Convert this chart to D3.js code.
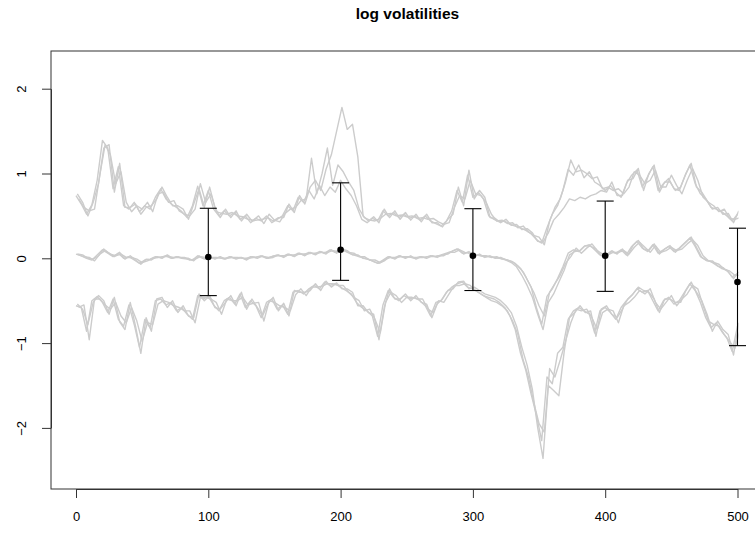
<!DOCTYPE html>
<html>
<head>
<meta charset="utf-8">
<script src="https://cdn.jsdelivr.net/npm/d3@7"></script>
<style>
  body { margin: 0; background: #fff; }
  svg { display: block; font-family: "Liberation Sans", Arial, Helvetica, sans-serif; }
</style>
</head>
<body>
<div id="chart"></div>
<script>
const width = 755;
const height = 535;

// sampling times of the paths: every 4th step, each run read on its own offset
const stepsA = d3.range(0, 501, 4);
const stepsB = d3.range(2, 503, 4);
const stepsC = d3.range(1, 502, 4);

// upper quantile paths
const upperA = [
  0.74, 0.64, 0.52, 0.63, 0.92, 1.39, 1.30, 0.82, 1.08, 0.62,
  0.58, 0.66, 0.55, 0.62, 0.58, 0.72, 0.82, 0.70, 0.64, 0.60,
  0.55, 0.48, 0.62, 0.85, 0.62, 0.80, 0.58, 0.50, 0.56, 0.50,
  0.54, 0.46, 0.50, 0.42, 0.47, 0.44, 0.50, 0.42, 0.46, 0.50,
  0.62, 0.56, 0.72, 0.66, 0.80, 0.70, 0.86, 0.74, 0.84, 0.78,
  0.92, 0.82, 0.74, 0.62, 0.46, 0.42, 0.47, 0.44, 0.56, 0.50,
  0.54, 0.48, 0.52, 0.47, 0.50, 0.45, 0.50, 0.44, 0.41, 0.38,
  0.44, 0.56, 0.80, 0.66, 0.98, 0.72, 0.78, 0.70, 0.50, 0.46,
  0.43, 0.44, 0.40, 0.38, 0.36, 0.33, 0.29, 0.22, 0.18, 0.36,
  0.52, 0.62, 0.80, 1.05, 0.98, 1.10, 0.95, 1.02, 0.90, 0.86,
  0.80, 0.86, 0.78, 0.72, 0.88, 0.98, 1.04, 0.84, 0.96, 1.08,
  0.80, 0.88, 0.94, 0.82, 0.80, 0.96, 1.10, 0.88, 0.76, 0.70,
  0.60, 0.58, 0.55, 0.50, 0.44, 0.52
];
const upperB = [
  0.70, 0.60, 0.56, 0.58, 0.98, 1.34, 1.22, 0.88, 1.02, 0.66,
  0.55, 0.62, 0.58, 0.66, 0.55, 0.76, 0.78, 0.66, 0.68, 0.56,
  0.52, 0.50, 0.58, 0.88, 0.66, 0.76, 0.55, 0.53, 0.52, 0.54,
  0.50, 0.49, 0.46, 0.45, 0.50, 0.41, 0.52, 0.45, 0.43, 0.53,
  0.58, 0.60, 0.68, 0.70, 1.18, 0.76, 1.00, 1.30, 0.86, 1.10,
  1.02, 0.90, 0.80, 0.58, 0.48, 0.45, 0.44, 0.47, 0.52, 0.53,
  0.50, 0.51, 0.49, 0.50, 0.47, 0.48, 0.46, 0.47, 0.43, 0.40,
  0.42, 0.60, 0.74, 0.70, 0.92, 0.76, 0.74, 0.66, 0.52, 0.44,
  0.45, 0.41, 0.42, 0.36, 0.38, 0.31, 0.27, 0.25, 0.16, 0.44,
  0.60, 0.70, 0.90, 1.16, 1.02, 1.04, 1.00, 0.94, 0.96, 0.82,
  0.84, 0.80, 0.82, 0.76, 0.84, 1.02, 0.98, 0.88, 0.92, 1.04,
  0.84, 0.84, 0.98, 0.86, 0.76, 0.92, 1.06, 0.92, 0.72, 0.66,
  0.62, 0.55, 0.58, 0.47, 0.46, 0.48
];
const upperC = [
  0.76, 0.66, 0.50, 0.66, 0.88, 1.30, 1.34, 0.78, 1.12, 0.60,
  0.60, 0.64, 0.52, 0.60, 0.62, 0.70, 0.84, 0.72, 0.62, 0.62,
  0.58, 0.46, 0.64, 0.82, 0.60, 0.84, 0.60, 0.48, 0.58, 0.48,
  0.56, 0.44, 0.52, 0.44, 0.45, 0.46, 0.48, 0.44, 0.48, 0.48,
  0.64, 0.54, 0.74, 0.64, 0.84, 0.92, 0.80, 1.05, 1.22, 1.50,
  1.78, 1.52, 1.58, 1.20, 0.50, 0.44, 0.49, 0.42, 0.58, 0.48,
  0.56, 0.46, 0.54, 0.45, 0.52, 0.43, 0.52, 0.42, 0.42, 0.37,
  0.46, 0.52, 0.84, 0.62, 1.04, 0.70, 0.80, 0.72, 0.48, 0.47,
  0.42, 0.46, 0.39, 0.40, 0.34, 0.35, 0.30, 0.20, 0.19, 0.30,
  0.45, 0.52, 0.60, 0.70, 0.68, 0.72, 0.70, 0.74, 0.76, 0.80,
  0.78, 0.90, 0.74, 0.74, 0.92, 0.94, 1.06, 0.80, 1.00, 1.10,
  0.78, 0.90, 0.90, 0.80, 0.84, 1.00, 1.12, 0.84, 0.78, 0.68,
  0.58, 0.60, 0.52, 0.53, 0.42, 0.56
];

// median paths
const midA = [
  0.05, 0.03, 0.00, -0.02, 0.04, 0.10, 0.06, 0.02, 0.06, 0.00,
  0.02, -0.02, -0.06, -0.02, -0.01, 0.02, 0.01, 0.03, 0.00, 0.02,
  0.00, -0.01, -0.02, 0.03, 0.00, 0.02, 0.00, 0.01, -0.01, 0.02,
  0.00, 0.01, -0.01, 0.02, 0.01, 0.03, 0.00, 0.02, 0.04, 0.02,
  0.05, 0.03, 0.06, 0.04, 0.07, 0.05, 0.08, 0.06, 0.10, 0.07,
  0.11, 0.08, 0.05, 0.03, 0.01, -0.01, -0.03, -0.06, -0.02, 0.02,
  0.00, 0.03, 0.01, 0.02, 0.00, 0.02, 0.01, 0.03, 0.02, 0.04,
  0.06, 0.08, 0.11, 0.06, 0.07, 0.03, 0.04, 0.02, 0.02, 0.01,
  0.00, -0.01, -0.03, -0.06, -0.12, -0.22, -0.34, -0.58, -0.78, -0.45,
  -0.36, -0.24, -0.10, 0.06, 0.10, 0.08, 0.14, 0.16, 0.10, 0.04,
  0.03, 0.08, 0.06, 0.10, 0.04, 0.14, 0.20, 0.12, 0.08, 0.16,
  0.06, 0.10, 0.14, 0.08, 0.12, 0.18, 0.24, 0.14, 0.02, -0.02,
  -0.04, -0.08, -0.12, -0.14, -0.22, -0.18
];
const midB = [
  0.04, 0.02, 0.01, -0.03, 0.05, 0.09, 0.05, 0.03, 0.05, 0.01,
  0.01, -0.01, -0.05, -0.03, 0.00, 0.01, 0.02, 0.02, 0.01, 0.01,
  0.01, -0.02, -0.01, 0.02, 0.01, 0.01, 0.01, 0.00, 0.00, 0.01,
  0.01, 0.00, 0.00, 0.01, 0.02, 0.02, 0.01, 0.03, 0.03, 0.03,
  0.04, 0.04, 0.05, 0.05, 0.06, 0.06, 0.07, 0.07, 0.09, 0.08,
  0.10, 0.07, 0.06, 0.02, 0.02, -0.02, -0.02, -0.05, -0.01, 0.01,
  0.01, 0.02, 0.02, 0.01, 0.01, 0.01, 0.02, 0.02, 0.03, 0.03,
  0.07, 0.07, 0.10, 0.07, 0.06, 0.04, 0.03, 0.03, 0.01, 0.02,
  -0.01, -0.02, -0.04, -0.09, -0.16, -0.28, -0.40, -0.56, -0.68, -0.40,
  -0.30, -0.20, -0.06, 0.02, 0.12, 0.06, 0.12, 0.17, 0.09, 0.05,
  0.04, 0.07, 0.07, 0.09, 0.05, 0.13, 0.19, 0.13, 0.07, 0.15,
  0.07, 0.09, 0.13, 0.09, 0.11, 0.17, 0.22, 0.15, 0.03, -0.03,
  -0.05, -0.07, -0.13, -0.15, -0.20, -0.20
];
const midC = [
  0.05, 0.04, 0.00, -0.01, 0.03, 0.11, 0.06, 0.02, 0.07, -0.01,
  0.03, -0.02, -0.07, -0.01, -0.02, 0.02, 0.00, 0.04, 0.00, 0.02,
  0.00, 0.00, -0.03, 0.03, -0.01, 0.02, -0.01, 0.02, -0.01, 0.02,
  -0.01, 0.01, -0.02, 0.02, 0.00, 0.03, 0.00, 0.01, 0.04, 0.01,
  0.05, 0.02, 0.06, 0.03, 0.07, 0.04, 0.08, 0.05, 0.10, 0.06,
  0.11, 0.09, 0.04, 0.04, 0.00, -0.01, -0.04, -0.06, -0.03, 0.02,
  -0.01, 0.03, 0.00, 0.03, -0.01, 0.02, 0.00, 0.03, 0.01, 0.04,
  0.05, 0.09, 0.11, 0.05, 0.08, 0.02, 0.05, 0.01, 0.03, 0.00,
  0.01, -0.02, -0.05, -0.10, -0.20, -0.32, -0.46, -0.66, -0.84, -0.52,
  -0.42, -0.28, -0.14, 0.04, 0.08, 0.09, 0.15, 0.14, 0.11, 0.03,
  0.02, 0.09, 0.05, 0.11, 0.03, 0.15, 0.21, 0.11, 0.09, 0.17,
  0.05, 0.11, 0.15, 0.07, 0.13, 0.19, 0.25, 0.13, 0.01, -0.03,
  -0.03, -0.09, -0.11, -0.16, -0.24, -0.16
];

// lower quantile paths
const lowerA = [
  -0.56, -0.58, -0.86, -0.50, -0.45, -0.52, -0.64, -0.48, -0.72, -0.80,
  -0.55, -0.78, -1.05, -0.72, -0.82, -0.50, -0.48, -0.55, -0.52, -0.62,
  -0.58, -0.66, -0.72, -0.44, -0.48, -0.45, -0.55, -0.62, -0.50, -0.46,
  -0.54, -0.42, -0.58, -0.50, -0.56, -0.70, -0.52, -0.48, -0.60, -0.55,
  -0.66, -0.40, -0.38, -0.42, -0.36, -0.32, -0.36, -0.28, -0.32, -0.30,
  -0.34, -0.38, -0.42, -0.52, -0.58, -0.62, -0.68, -0.92, -0.55, -0.38,
  -0.46, -0.50, -0.44, -0.48, -0.46, -0.50, -0.56, -0.68, -0.52, -0.50,
  -0.40, -0.34, -0.30, -0.28, -0.34, -0.36, -0.40, -0.44, -0.46, -0.48,
  -0.52, -0.58, -0.68, -0.84, -1.12, -1.32, -1.60, -1.85, -2.15, -1.40,
  -1.48, -1.12, -1.05, -0.72, -0.62, -0.58, -0.62, -0.66, -0.88, -0.62,
  -0.58, -0.64, -0.72, -0.58, -0.50, -0.44, -0.36, -0.40, -0.38, -0.50,
  -0.62, -0.50, -0.46, -0.54, -0.50, -0.40, -0.30, -0.38, -0.52, -0.70,
  -0.82, -0.76, -0.86, -0.94, -1.10, -0.80
];
const lowerB = [
  -0.58, -0.55, -0.96, -0.48, -0.48, -0.55, -0.60, -0.52, -0.68, -0.76,
  -0.58, -0.74, -0.98, -0.76, -0.78, -0.54, -0.50, -0.52, -0.56, -0.58,
  -0.62, -0.62, -0.76, -0.46, -0.46, -0.48, -0.52, -0.66, -0.48, -0.50,
  -0.50, -0.46, -0.55, -0.53, -0.52, -0.74, -0.50, -0.52, -0.56, -0.58,
  -0.62, -0.43, -0.36, -0.44, -0.34, -0.34, -0.33, -0.30, -0.30, -0.32,
  -0.32, -0.40, -0.46, -0.50, -0.62, -0.60, -0.72, -0.88, -0.52, -0.40,
  -0.44, -0.52, -0.46, -0.46, -0.48, -0.48, -0.60, -0.64, -0.50, -0.52,
  -0.42, -0.32, -0.32, -0.30, -0.32, -0.38, -0.42, -0.46, -0.50, -0.52,
  -0.56, -0.62, -0.74, -0.90, -1.20, -1.40, -1.70, -1.95, -2.05, -1.30,
  -1.40, -1.20, -0.98, -0.76, -0.60, -0.62, -0.60, -0.70, -0.84, -0.64,
  -0.60, -0.62, -0.76, -0.56, -0.52, -0.46, -0.38, -0.42, -0.36, -0.52,
  -0.60, -0.52, -0.44, -0.56, -0.48, -0.42, -0.32, -0.36, -0.56, -0.74,
  -0.78, -0.80, -0.90, -0.98, -1.06, -0.84
];
const lowerC = [
  -0.54, -0.60, -0.78, -0.52, -0.44, -0.50, -0.66, -0.46, -0.75, -0.84,
  -0.52, -0.80, -1.12, -0.70, -0.86, -0.48, -0.46, -0.58, -0.50, -0.64,
  -0.56, -0.68, -0.70, -0.42, -0.50, -0.44, -0.58, -0.60, -0.52, -0.44,
  -0.56, -0.40, -0.60, -0.48, -0.58, -0.68, -0.54, -0.46, -0.62, -0.53,
  -0.68, -0.38, -0.40, -0.40, -0.38, -0.30, -0.38, -0.27, -0.34, -0.29,
  -0.36, -0.36, -0.40, -0.56, -0.56, -0.64, -0.66, -0.96, -0.58, -0.36,
  -0.48, -0.48, -0.42, -0.50, -0.44, -0.52, -0.54, -0.70, -0.54, -0.48,
  -0.38, -0.36, -0.28, -0.27, -0.36, -0.34, -0.38, -0.42, -0.44, -0.46,
  -0.50, -0.56, -0.64, -0.80, -1.05, -1.26, -1.55, -2.00, -2.36, -1.50,
  -1.56, -1.62, -1.10, -0.70, -0.64, -0.56, -0.64, -0.62, -0.92, -0.60,
  -0.56, -0.66, -0.70, -0.60, -0.48, -0.42, -0.34, -0.38, -0.40, -0.48,
  -0.64, -0.48, -0.48, -0.52, -0.52, -0.38, -0.28, -0.40, -0.50, -0.66,
  -0.86, -0.74, -0.84, -0.90, -1.14, -0.76
];

// posterior summaries at selected times
const barX = [100, 200, 300, 400, 500];
const barMean = [0.015, 0.10, 0.03, 0.03, -0.28];
const barLow = [-0.44, -0.26, -0.38, -0.39, -1.03];
const barHigh = [0.59, 0.89, 0.585, 0.675, 0.355];

const xTicks = [0, 100, 200, 300, 400, 500];
const yTicks = [-2, -1, 0, 1, 2];

const box = { left: 51, top: 51, right: 764, bottom: 489 };

const x = d3.scaleLinear().domain([0, 500]).range([76, 737.5]);
const y = d3.scaleLinear().domain([-2, 2]).range([427.9, 88.7]);

const svg = d3.select("#chart").append("svg")
    .attr("width", width)
    .attr("height", height);

svg.append("defs").append("clipPath")
    .attr("id", "clip")
    .append("rect")
    .attr("x", x(0) - 1)
    .attr("y", box.top)
    .attr("width", x(500) - x(0) + 2)
    .attr("height", box.bottom - box.top);

svg.append("text")
    .attr("x", (box.left + box.right) / 2)
    .attr("y", 19)
    .attr("text-anchor", "middle")
    .style("font-size", "15.5px")
    .style("font-weight", "bold")
    .text("log volatilities");

const runs = [
    { t: stepsA, v: upperA }, { t: stepsB, v: upperB }, { t: stepsC, v: upperC },
    { t: stepsA, v: midA }, { t: stepsB, v: midB }, { t: stepsC, v: midC },
    { t: stepsA, v: lowerA }, { t: stepsB, v: lowerB }, { t: stepsC, v: lowerC }
];

svg.append("g")
    .attr("clip-path", "url(#clip)")
    .selectAll("path")
    .data(runs)
    .enter().append("path")
    .attr("d", r => d3.line()
        .x((d, i) => x(r.t[i]))
        .y(d => y(d))(r.v))
    .style("fill", "none")
    .style("stroke", "#cccccc")
    .style("stroke-width", 1.4)
    .style("stroke-linejoin", "round");

// error bars
const bars = svg.append("g");
const capW = 8.5;

bars.selectAll("line.stem")
    .data(barX)
    .enter().append("line")
    .attr("x1", d => x(d))
    .attr("x2", d => x(d))
    .attr("y1", (d, i) => y(barLow[i]))
    .attr("y2", (d, i) => y(barHigh[i]));

bars.selectAll("line.top")
    .data(barX)
    .enter().append("line")
    .attr("x1", d => x(d) - capW)
    .attr("x2", d => x(d) + capW)
    .attr("y1", (d, i) => y(barHigh[i]))
    .attr("y2", (d, i) => y(barHigh[i]));

bars.selectAll("line.bottom")
    .data(barX)
    .enter().append("line")
    .attr("x1", d => x(d) - capW)
    .attr("x2", d => x(d) + capW)
    .attr("y1", (d, i) => y(barLow[i]))
    .attr("y2", (d, i) => y(barLow[i]));

bars.selectAll("line")
    .style("stroke", "#000")
    .style("stroke-width", 1.1);

bars.selectAll("circle")
    .data(barX)
    .enter().append("circle")
    .attr("cx", d => x(d))
    .attr("cy", (d, i) => y(barMean[i]))
    .attr("r", 3.3)
    .style("fill", "#000");

// frame
svg.append("rect")
    .attr("x", box.left)
    .attr("y", box.top)
    .attr("width", box.right - box.left)
    .attr("height", box.bottom - box.top)
    .style("fill", "none")
    .style("stroke", "#333")
    .style("stroke-width", 1);

// axes
const xAxis = svg.append("g")
    .attr("transform", `translate(0,${box.bottom})`)
    .call(d3.axisBottom(x).tickValues(xTicks).tickFormat(d3.format("d"))
        .tickSize(9).tickSizeOuter(0).tickPadding(14));

const yAxis = svg.append("g")
    .attr("transform", `translate(${box.left},0)`)
    .call(d3.axisLeft(y).tickValues(yTicks).tickFormat(d3.format("d"))
        .tickSize(9).tickSizeOuter(0));

yAxis.selectAll(".tick text")
    .attr("x", null)
    .attr("dy", null)
    .attr("text-anchor", "middle")
    .attr("transform", "translate(-25,0) rotate(-90)");

svg.selectAll(".domain, .tick line")
    .style("stroke", "#333");

svg.selectAll(".tick text")
    .style("font-size", "13px")
    .style("font-family", "'Liberation Sans', Arial, sans-serif")
    .style("fill", "#000");
</script>
</body>
</html>
